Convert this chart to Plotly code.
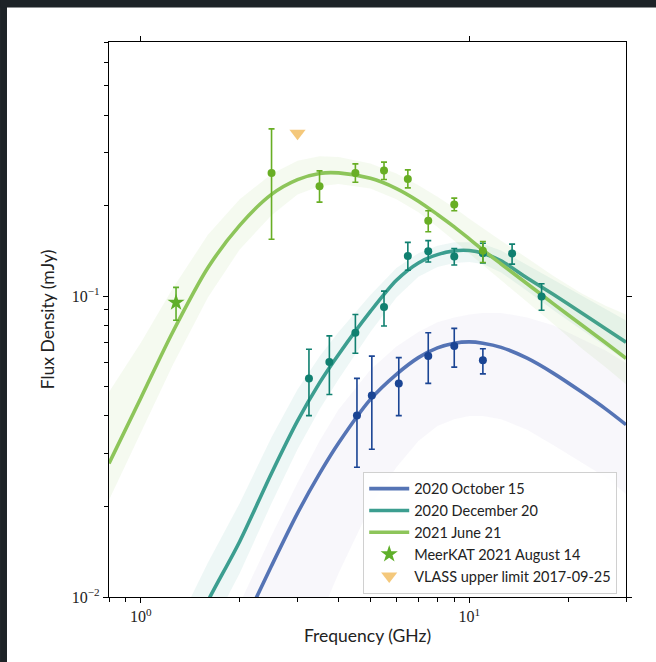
import plotly.graph_objects as go

# ---------------- data ----------------
# model curves (best fit) and posterior-sample envelopes
jun_model_freq = [0.8, 1.0, 1.25, 1.6, 2.0, 2.5, 3.0, 3.5, 4.0, 5.0, 6.0, 7.0, 8.0, 9.0, 10, 11, 12.5, 15, 18, 22, 26, 30]
jun_model = [0.0278, 0.0459, 0.0759, 0.1243, 0.172, 0.218, 0.244, 0.256, 0.257, 0.2465, 0.228, 0.207, 0.187, 0.170, 0.155, 0.1425, 0.128, 0.110, 0.0945, 0.0802, 0.070, 0.0622]
jun_upper = [0.048, 0.07, 0.106, 0.16, 0.21, 0.255, 0.282, 0.292, 0.29, 0.276, 0.256, 0.234, 0.214, 0.197, 0.181, 0.168, 0.153, 0.134, 0.117, 0.102, 0.093, 0.087]
jun_lower = [0.021, 0.035, 0.059, 0.099, 0.143, 0.186, 0.218, 0.232, 0.236, 0.228, 0.21, 0.19, 0.17, 0.153, 0.139, 0.127, 0.113, 0.096, 0.081, 0.067, 0.058, 0.051]

dec_model_freq = [1.25, 1.6, 2.0, 2.5, 3.0, 3.5, 4.0, 5.0, 6.0, 7.0, 8.0, 9.0, 10, 11, 12.5, 15, 18, 22, 26, 30]
dec_model = [0.0056, 0.0097, 0.0153, 0.0258, 0.0385, 0.0515, 0.064, 0.089, 0.113, 0.129, 0.1375, 0.1415, 0.1418, 0.139, 0.131, 0.115, 0.1015, 0.088, 0.078, 0.0703]
dec_upper = [0.0075, 0.013, 0.0205, 0.034, 0.049, 0.063, 0.076, 0.101, 0.124, 0.139, 0.147, 0.151, 0.151, 0.149, 0.142, 0.127, 0.114, 0.101, 0.091, 0.083]
dec_lower = [0.0042, 0.0075, 0.012, 0.0205, 0.031, 0.042, 0.053, 0.076, 0.099, 0.116, 0.125, 0.129, 0.13, 0.128, 0.12, 0.104, 0.09, 0.077, 0.068, 0.061]

oct_model_freq = [1.6, 2.0, 2.5, 3.0, 3.5, 4.0, 5.0, 6.0, 7.0, 8.0, 9.0, 10, 11, 12.5, 15, 18, 22, 26, 30]
oct_model = [0.0045, 0.0076, 0.0127, 0.019, 0.0257, 0.0325, 0.0454, 0.055, 0.0625, 0.0673, 0.0698, 0.0705, 0.0698, 0.0676, 0.0622, 0.0555, 0.048, 0.0422, 0.0374]
oct_upper = [0.0062, 0.0095, 0.016, 0.024, 0.033, 0.042, 0.057, 0.068, 0.076, 0.082, 0.085, 0.087, 0.088, 0.088, 0.085, 0.08, 0.072, 0.066, 0.06]
oct_lower = [0.0015, 0.0025, 0.004, 0.006, 0.0085, 0.012, 0.02, 0.027, 0.033, 0.037, 0.039, 0.04, 0.04, 0.039, 0.036, 0.032, 0.028, 0.025, 0.022]

# observations (flux, upper and lower ends of error bars)
jun_freq = [2.5, 3.5, 4.5, 5.5, 6.5, 7.5, 9.0, 11.0]
jun_flux = [0.2566, 0.232, 0.2566, 0.2617, 0.2455, 0.1783, 0.2018, 0.1416]
jun_hi = [0.36, 0.261, 0.2754, 0.279, 0.263, 0.1924, 0.2119, 0.152]
jun_lo = [0.1547, 0.2055, 0.2393, 0.2443, 0.2291, 0.1638, 0.1924, 0.1295]

dec_freq = [3.25, 3.75, 4.5, 5.5, 6.5, 7.5, 9.0, 11.0, 13.5, 16.6]
dec_flux = [0.0533, 0.0604, 0.0756, 0.0921, 0.136, 0.141, 0.1355, 0.139, 0.1387, 0.0998]
dec_hi = [0.0666, 0.0738, 0.0869, 0.104, 0.151, 0.153, 0.144, 0.150, 0.149, 0.110]
dec_lo = [0.0401, 0.0471, 0.0646, 0.0796, 0.122, 0.130, 0.127, 0.129, 0.1278, 0.0898]

oct_freq = [4.55, 5.05, 6.1, 7.5, 9.0, 11.0]
oct_flux = [0.0401, 0.0468, 0.0513, 0.0633, 0.0683, 0.0612]
oct_hi = [0.0533, 0.0632, 0.0625, 0.0756, 0.0782, 0.0669]
oct_lo = [0.0270, 0.031, 0.0401, 0.0513, 0.0581, 0.0552]

meerkat_freq = [1.28]
meerkat_flux = [0.0953]
meerkat_hi = [0.107]
meerkat_lo = [0.0832]

vlass_freq = [3.0]
vlass_flux = [0.348]

# tick labels (matplotlib-style powers of ten)
x_tick_alias = {"1": "10<sup>0</sup>", "10": "10<sup>1</sup>"}
y_tick_alias = {"0.01": "10<sup>\u22122</sup>", "0.1": "10<sup>\u22121</sup>"}
x_tick_vals = [1, 10]
y_tick_vals = [0.01, 0.1]

# ---------------- styles ----------------
series = [
    dict(name="2020 October 15", mf=oct_model_freq, m=oct_model, up=oct_upper, lo=oct_lower,
         f=oct_freq, v=oct_flux, hi=oct_hi, elo=oct_lo,
         line="#5574b5", band="rgba(150,140,195,0.07)", pt="#1b4594"),
    dict(name="2020 December 20", mf=dec_model_freq, m=dec_model, up=dec_upper, lo=dec_lower,
         f=dec_freq, v=dec_flux, hi=dec_hi, elo=dec_lo,
         line="#3c9e90", band="rgba(70,165,150,0.09)", pt="#108070"),
    dict(name="2021 June 21", mf=jun_model_freq, m=jun_model, up=jun_upper, lo=jun_lower,
         f=jun_freq, v=jun_flux, hi=jun_hi, elo=jun_lo,
         line="#8dc55a", band="rgba(140,197,90,0.09)", pt="#68ae24"),
]

fig = go.Figure()

for i, s in enumerate(series):
    fig.add_trace(go.Scatter(
        x=list(s["mf"]) + list(s["mf"])[::-1],
        y=list(s["up"]) + list(s["lo"])[::-1],
        fill="toself", fillcolor=s["band"], line=dict(width=0),
        mode="lines", hoverinfo="skip", showlegend=False))
    fig.add_trace(go.Scatter(
        x=s["mf"], y=s["m"], mode="lines", name=s["name"],
        line=dict(color=s["line"], width=3.6, shape="spline", smoothing=0.8),
        legendrank=10 + i))

for s in series:
    fig.add_trace(go.Scatter(
        x=s["f"], y=s["v"], mode="markers", showlegend=False,
        marker=dict(color=s["pt"], size=8),
        error_y=dict(type="data", symmetric=False,
                     array=[h - v for h, v in zip(s["hi"], s["v"])],
                     arrayminus=[v - l for l, v in zip(s["elo"], s["v"])],
                     color=s["pt"], thickness=1.6, width=3)))

fig.add_trace(go.Scatter(
    x=meerkat_freq, y=meerkat_flux, mode="markers", name="MeerKAT 2021 August 14",
    marker=dict(symbol="star", color="#5faf2a", size=13),
    error_y=dict(type="data", symmetric=False,
                 array=[h - v for h, v in zip(meerkat_hi, meerkat_flux)],
                 arrayminus=[v - l for l, v in zip(meerkat_lo, meerkat_flux)],
                 color="#5faf2a", thickness=1.6, width=3),
    legendrank=20))

fig.add_trace(go.Scatter(
    x=vlass_freq, y=vlass_flux, mode="markers", name="VLASS upper limit 2017-09-25",
    marker=dict(symbol="triangle-down", color="rgba(242,192,105,0.88)", size=14),
    legendrank=21))

# invisible trace that holds the mirrored major-tick axes (top / right)
fig.add_trace(go.Scatter(x=[2], y=[0.05], xaxis="x2", yaxis="y2", mode="markers",
                         marker=dict(opacity=0), showlegend=False, hoverinfo="skip"))

xr = [-0.09691, 1.47712]
yr = [-2.0, -0.15490]
tickfont = dict(family="Liberation Serif", size=16, color="#222")
titlefont = dict(family="Lato", size=17.5, color="#222")
minor = dict(ticks="outside", ticklen=3.5, tickwidth=1.1, tickcolor="black", dtick="D1", showgrid=False)

fig.update_layout(
    width=656, height=662,
    margin=dict(l=109, r=30, t=42, b=65),
    paper_bgcolor="white", plot_bgcolor="white",
    xaxis=dict(type="log", range=xr, showline=True, linecolor="black", linewidth=1.2, mirror=True,
               showgrid=False, zeroline=False, ticks="outside", ticklen=5, tickwidth=1.2,
               tickcolor="black", tickmode="linear", tick0=0, dtick=1, labelalias=x_tick_alias,
               tickfont=tickfont, minor=minor,
               title=dict(text="Frequency (GHz)", font=titlefont, standoff=5)),
    yaxis=dict(type="log", range=yr, showline=True, linecolor="black", linewidth=1.2, mirror=True,
               showgrid=False, zeroline=False, ticks="outside", ticklen=5, tickwidth=1.2,
               tickcolor="black", tickmode="linear", tick0=0, dtick=1, labelalias=y_tick_alias,
               tickfont=tickfont, minor=minor,
               title=dict(text="Flux Density (mJy)", font=titlefont, standoff=12)),
    xaxis2=dict(type="log", range=xr, overlaying="x", side="top", anchor="y",
                showgrid=False, zeroline=False, showline=False, showticklabels=False,
                ticks="outside", ticklen=5, tickwidth=1.2, tickcolor="black",
                tickmode="array", tickvals=x_tick_vals),
    yaxis2=dict(type="log", range=yr, overlaying="y", side="right", anchor="x",
                showgrid=False, zeroline=False, showline=False, showticklabels=False,
                ticks="outside", ticklen=5, tickwidth=1.2, tickcolor="black",
                tickmode="array", tickvals=y_tick_vals),
    legend=dict(x=0.983, y=0.006, xanchor="right", yanchor="bottom",
                bgcolor="rgba(255,255,255,0.85)", bordercolor="#d0d0d0", borderwidth=1,
                font=dict(family="Lato", size=14.5, color="#222"),
                itemwidth=40, tracegroupgap=0),
    showlegend=True,
    shapes=[
        dict(type="rect", xref="paper", yref="paper", x0=-0.2108, x1=-0.1973, y0=-0.12, y1=1.08,
             fillcolor="#1d2327", line=dict(width=0), layer="above"),
        dict(type="rect", xref="paper", yref="paper", x0=-0.2108, x1=1.06, y0=1.062, y1=1.08,
             fillcolor="#1d2327", line=dict(width=0), layer="above"),
    ],
)

fig.write_html("out.html")
